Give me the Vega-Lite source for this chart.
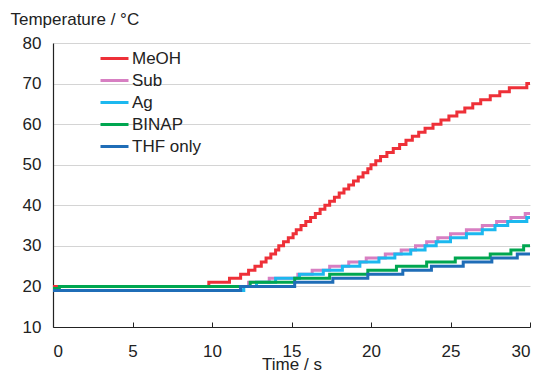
{
  "$schema": "https://vega.github.io/schema/vega-lite/v6.json",
  "width": 477,
  "height": 284,
  "autosize": {"type": "none"},
  "padding": {"left": 53, "top": 43, "right": 12, "bottom": 43},
  "background": "white",
  "config": {
    "font": "Liberation Sans",
    "view": {"stroke": null}
  },
  "data": {
    "values": [
      {"s": "MeOH", "t": 0, "T": 20}, {"s": "MeOH", "t": 9.8, "T": 21}, {"s": "MeOH", "t": 11.1, "T": 22}, {"s": "MeOH", "t": 11.8, "T": 23}, {"s": "MeOH", "t": 12.3, "T": 24}, {"s": "MeOH", "t": 12.7, "T": 25}, {"s": "MeOH", "t": 13.1, "T": 26}, {"s": "MeOH", "t": 13.4, "T": 27}, {"s": "MeOH", "t": 13.7, "T": 28}, {"s": "MeOH", "t": 14.0, "T": 29}, {"s": "MeOH", "t": 14.2, "T": 30}, {"s": "MeOH", "t": 14.5, "T": 31}, {"s": "MeOH", "t": 14.8, "T": 32}, {"s": "MeOH", "t": 15.1, "T": 33}, {"s": "MeOH", "t": 15.3, "T": 34}, {"s": "MeOH", "t": 15.6, "T": 35}, {"s": "MeOH", "t": 15.9, "T": 36}, {"s": "MeOH", "t": 16.2, "T": 37}, {"s": "MeOH", "t": 16.5, "T": 38}, {"s": "MeOH", "t": 16.8, "T": 39}, {"s": "MeOH", "t": 17.1, "T": 40}, {"s": "MeOH", "t": 17.4, "T": 41}, {"s": "MeOH", "t": 17.7, "T": 42}, {"s": "MeOH", "t": 18.0, "T": 43}, {"s": "MeOH", "t": 18.3, "T": 44}, {"s": "MeOH", "t": 18.6, "T": 45}, {"s": "MeOH", "t": 18.9, "T": 46}, {"s": "MeOH", "t": 19.2, "T": 47}, {"s": "MeOH", "t": 19.5, "T": 48}, {"s": "MeOH", "t": 19.8, "T": 49}, {"s": "MeOH", "t": 20.0, "T": 50}, {"s": "MeOH", "t": 20.3, "T": 51}, {"s": "MeOH", "t": 20.6, "T": 52}, {"s": "MeOH", "t": 21.0, "T": 53}, {"s": "MeOH", "t": 21.4, "T": 54}, {"s": "MeOH", "t": 21.8, "T": 55}, {"s": "MeOH", "t": 22.2, "T": 56}, {"s": "MeOH", "t": 22.6, "T": 57}, {"s": "MeOH", "t": 23.0, "T": 58}, {"s": "MeOH", "t": 23.4, "T": 59}, {"s": "MeOH", "t": 23.9, "T": 60}, {"s": "MeOH", "t": 24.4, "T": 61}, {"s": "MeOH", "t": 24.9, "T": 62}, {"s": "MeOH", "t": 25.4, "T": 63}, {"s": "MeOH", "t": 25.9, "T": 64}, {"s": "MeOH", "t": 26.4, "T": 65}, {"s": "MeOH", "t": 26.9, "T": 66}, {"s": "MeOH", "t": 27.5, "T": 67}, {"s": "MeOH", "t": 28.1, "T": 68}, {"s": "MeOH", "t": 28.7, "T": 69}, {"s": "MeOH", "t": 29.8, "T": 70}, {"s": "MeOH", "t": 30, "T": 70},
      {"s": "Sub", "t": 0, "T": 19}, {"s": "Sub", "t": 11.8, "T": 20}, {"s": "Sub", "t": 12.3, "T": 21}, {"s": "Sub", "t": 13.6, "T": 22}, {"s": "Sub", "t": 15.4, "T": 23}, {"s": "Sub", "t": 16.3, "T": 24}, {"s": "Sub", "t": 17.4, "T": 25}, {"s": "Sub", "t": 18.6, "T": 26}, {"s": "Sub", "t": 19.7, "T": 27}, {"s": "Sub", "t": 20.9, "T": 28}, {"s": "Sub", "t": 21.9, "T": 29}, {"s": "Sub", "t": 22.8, "T": 30}, {"s": "Sub", "t": 23.5, "T": 31}, {"s": "Sub", "t": 24.2, "T": 32}, {"s": "Sub", "t": 25.0, "T": 33}, {"s": "Sub", "t": 26.0, "T": 34}, {"s": "Sub", "t": 27.0, "T": 35}, {"s": "Sub", "t": 27.9, "T": 36}, {"s": "Sub", "t": 28.8, "T": 37}, {"s": "Sub", "t": 29.7, "T": 38}, {"s": "Sub", "t": 30, "T": 38},
      {"s": "Ag", "t": 0, "T": 19}, {"s": "Ag", "t": 12.0, "T": 20}, {"s": "Ag", "t": 12.8, "T": 21}, {"s": "Ag", "t": 14.0, "T": 22}, {"s": "Ag", "t": 15.5, "T": 23}, {"s": "Ag", "t": 17.0, "T": 24}, {"s": "Ag", "t": 18.2, "T": 25}, {"s": "Ag", "t": 19.3, "T": 26}, {"s": "Ag", "t": 20.5, "T": 27}, {"s": "Ag", "t": 21.5, "T": 28}, {"s": "Ag", "t": 22.5, "T": 29}, {"s": "Ag", "t": 23.4, "T": 30}, {"s": "Ag", "t": 24.1, "T": 31}, {"s": "Ag", "t": 25.0, "T": 32}, {"s": "Ag", "t": 26.0, "T": 33}, {"s": "Ag", "t": 27.0, "T": 34}, {"s": "Ag", "t": 27.8, "T": 35}, {"s": "Ag", "t": 28.6, "T": 36}, {"s": "Ag", "t": 29.8, "T": 37}, {"s": "Ag", "t": 30, "T": 37},
      {"s": "BINAP", "t": 0, "T": 19.5}, {"s": "BINAP", "t": 0.4, "T": 20}, {"s": "BINAP", "t": 12.4, "T": 21}, {"s": "BINAP", "t": 15.2, "T": 22}, {"s": "BINAP", "t": 17.4, "T": 23}, {"s": "BINAP", "t": 19.8, "T": 24}, {"s": "BINAP", "t": 21.6, "T": 25}, {"s": "BINAP", "t": 23.5, "T": 26}, {"s": "BINAP", "t": 25.3, "T": 27}, {"s": "BINAP", "t": 27.5, "T": 28}, {"s": "BINAP", "t": 28.8, "T": 29}, {"s": "BINAP", "t": 29.6, "T": 30}, {"s": "BINAP", "t": 30, "T": 30},
      {"s": "THF only", "t": 0, "T": 19}, {"s": "THF only", "t": 11.8, "T": 20}, {"s": "THF only", "t": 15.2, "T": 21}, {"s": "THF only", "t": 17.6, "T": 22}, {"s": "THF only", "t": 19.8, "T": 23}, {"s": "THF only", "t": 22.0, "T": 24}, {"s": "THF only", "t": 23.8, "T": 25}, {"s": "THF only", "t": 25.8, "T": 26}, {"s": "THF only", "t": 27.6, "T": 27}, {"s": "THF only", "t": 29.2, "T": 28}, {"s": "THF only", "t": 30, "T": 28}
    ]
  },
  "mark": {"type": "line", "interpolate": "step-after", "strokeWidth": 3, "clip": true},
  "encoding": {
    "x": {
      "field": "t", "type": "quantitative",
      "scale": {"domain": [0, 30], "nice": false},
      "axis": {
        "values": [0, 5, 10, 15, 20, 25, 30],
        "title": "Time / s",
        "titleFontSize": 17, "titleFontWeight": "normal", "titleColor": "#222",
        "titleBaseline": "top", "titleY": 29, "titlePadding": 0,
        "labelFontSize": 17, "labelColor": "#222", "labelPadding": 21,
        "grid": false, "domainColor": "#222", "domainWidth": 1.2,
        "tickColor": "#222", "tickSize": -5, "tickWidth": 1
      }
    },
    "y": {
      "field": "T", "type": "quantitative",
      "scale": {"domain": [10, 80], "nice": false},
      "axis": {
        "values": [10, 20, 30, 40, 50, 60, 70, 80],
        "title": "Temperature / °C",
        "titleAngle": 0, "titleAlign": "left", "titleBaseline": "middle",
        "titleX": -43, "titleY": -24,
        "titleFontSize": 17, "titleFontWeight": "normal", "titleColor": "#222",
        "labelFontSize": 17, "labelColor": "#222", "labelPadding": 12,
        "grid": true, "gridColor": "#d4d4d4", "gridWidth": 1,
        "domainColor": "#222", "domainWidth": 1.2,
        "ticks": false
      }
    },
    "color": {
      "field": "s", "type": "nominal",
      "scale": {
        "domain": ["MeOH", "Sub", "Ag", "BINAP", "THF only"],
        "range": ["#ee3038", "#d77fc2", "#1cb8ef", "#00a650", "#1f6db7"]
      },
      "legend": {
        "orient": "none", "legendX": 46, "legendY": 7,
        "title": null,
        "symbolType": "M-1,0H3", "symbolSize": 196, "symbolStrokeWidth": 3,
        "labelFontSize": 17, "labelColor": "#222", "labelOffset": 16,
        "rowPadding": 4
      }
    },
    "order": {"field": "t", "type": "quantitative"}
  }
}
